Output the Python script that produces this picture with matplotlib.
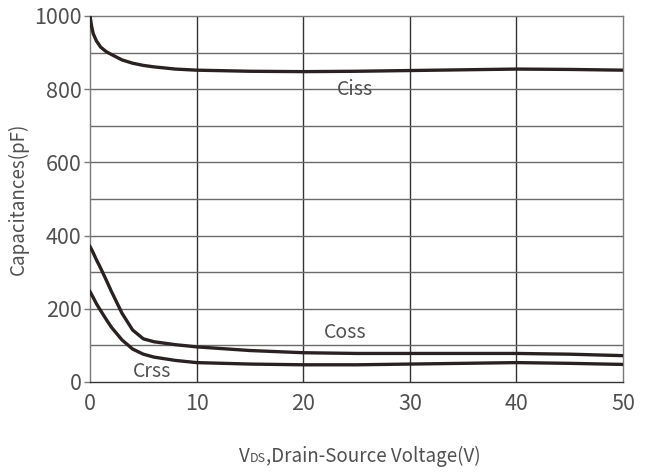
import matplotlib

matplotlib.use("Agg")
import matplotlib.pyplot as plt
from matplotlib.offsetbox import TextArea, HPacker, AnchoredOffsetbox

plt.rcParams["font.family"] = ["Noto Sans CJK SC", "DejaVu Sans"]

# Capacitance vs drain-source voltage
vds = [0, 0.15, 0.3, 0.6, 1, 1.5, 2, 3, 4, 5, 6, 8, 10, 15, 20, 25, 30, 35, 40, 45, 50]
ciss = [1000, 972, 952, 932, 915, 903, 895, 880, 871, 865, 861, 855, 852, 849, 848, 849, 851, 853, 855, 854, 852]
coss = [370, 362, 353, 334, 311, 280, 248, 188, 142, 118, 110, 102, 96, 86, 80, 78, 78, 78, 78, 76, 72]
crss = [247, 239, 231, 214, 195, 172, 150, 115, 90, 76, 68, 59, 53, 49, 47, 47, 49, 51, 53, 51, 48]

x_ticks = [0, 10, 20, 30, 40, 50]
y_ticks = [0, 200, 400, 600, 800, 1000]

text_col = "#505050"
line_col = "#2a2222"

fig = plt.figure(figsize=(6.54, 4.74), dpi=100)
ax = fig.add_axes([90 / 654, 1 - 382 / 474, 533 / 654, 366 / 474])

ax.set_xlim(0, 50)
ax.set_ylim(0, 1000)

# grid: every 10 V and every 100 pF
for v in range(10, 50, 10):
    ax.axvline(v, color="#333333", lw=1.0, zorder=1)
for c in range(100, 1000, 100):
    ax.axhline(c, color="#6a6a6a", lw=1.0, zorder=1)

for s in ["top", "right"]:
    ax.spines[s].set_color("#7a7a7a")
ax.spines["left"].set_color("#7a7a7a")
ax.spines["bottom"].set_color("#333333")
for s in ax.spines.values():
    s.set_linewidth(1.0)

ax.plot(vds, ciss, color=line_col, lw=2.4, zorder=3)
ax.plot(vds, coss, color=line_col, lw=2.4, zorder=3)
ax.plot(vds, crss, color=line_col, lw=2.4, zorder=3)

ax.text(24.9, 798, "Ciss", fontsize=14, color=text_col, ha="center", va="center")
ax.text(23.9, 136, "Coss", fontsize=14, color=text_col, ha="center", va="center")
ax.text(5.8, 28, "Crss", fontsize=14, color=text_col, ha="center", va="center")

ax.set_xticks(x_ticks)
ax.set_yticks(y_ticks)
ax.tick_params(axis="x", length=0, pad=8, labelsize=15.5, labelcolor=text_col)
ax.tick_params(axis="y", length=4, width=1, color="#7a7a7a", pad=2,
               labelsize=15.5, labelcolor=text_col)

ax.set_ylabel("Capacitances(pF)", fontsize=13.5, color=text_col, labelpad=4)

# x label with small "DS" after the V
parts = [
    TextArea("V", textprops=dict(fontsize=13.5, color=text_col)),
    TextArea("DS", textprops=dict(fontsize=9, color=text_col)),
    TextArea(",Drain-Source Voltage(V)", textprops=dict(fontsize=13.5, color=text_col)),
]
box = HPacker(children=parts, align="baseline", pad=0, sep=0)
anchored = AnchoredOffsetbox(loc="center", child=box, frameon=False,
                             bbox_to_anchor=(360 / 654, 1 - 456 / 474),
                             bbox_transform=fig.transFigure, borderpad=0)
fig.add_artist(anchored)

fig.savefig("out.png", dpi=100)
